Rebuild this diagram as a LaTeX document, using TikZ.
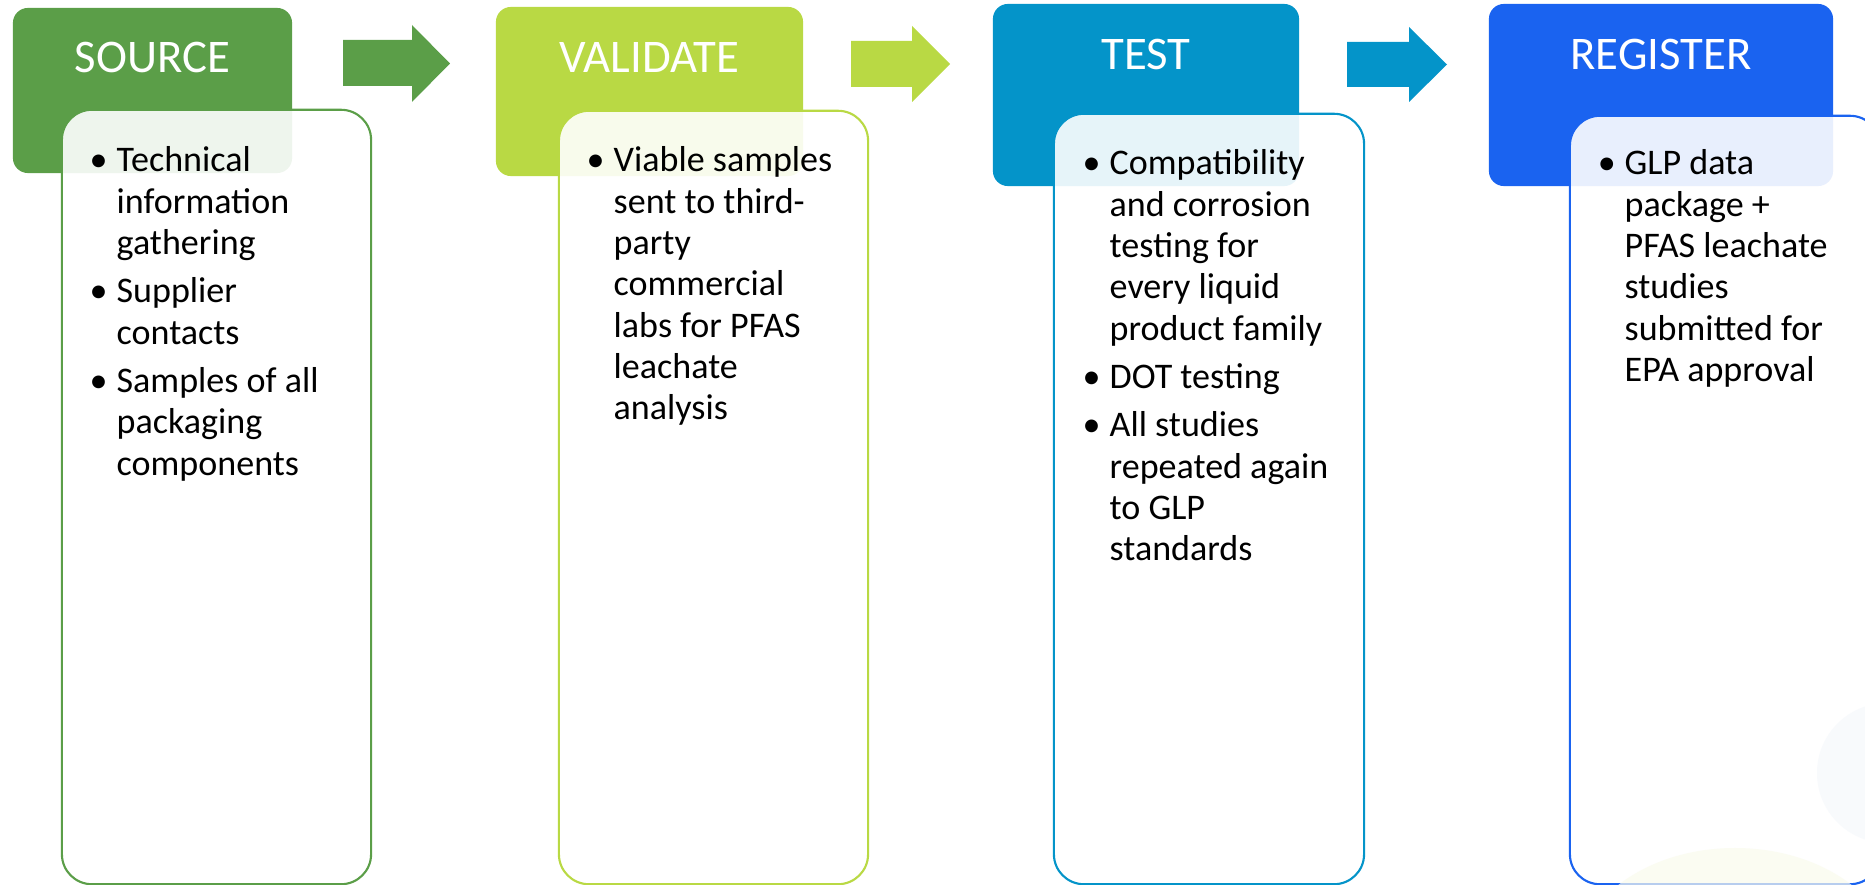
\documentclass[tikz,border=0pt]{standalone}
\usepackage{fontspec}
\setmainfont{Carlito}
\definecolor{srcgreen}{RGB}{91,158,72}
\definecolor{vallime}{RGB}{185,217,68}
\definecolor{testblue}{RGB}{4,148,201}
\definecolor{regblue}{RGB}{26,99,240}
\definecolor{faintblue}{RGB}{242,246,251}
\definecolor{faintyellow}{RGB}{250,251,238}
\newcommand{\bul}{\llap{\textbullet\hspace{0.09cm}}}
\newcommand{\stagelist}[1]{\begin{tabular}[t]{@{}l@{}}#1\end{tabular}}

\begin{document}
\begin{tikzpicture}[x=0.01cm, y=-0.01cm,
    head/.style={fill=#1, rounded corners=0.15cm, inner sep=0pt},
    body/.style={draw=#1, line width=0.6pt, fill=white, fill opacity=0.9,
                 rounded corners=0.3cm, inner sep=0pt},
    title/.style={text=white, font=\fontsize{13.3}{16}\selectfont, inner sep=0pt, anchor=base},
    bullets/.style={inner sep=0pt, anchor=base west,
                    font=\fontsize{10.25}{11.75}\selectfont}]
    \clip (0,0) rectangle (1865,885);

    % stage headers
    \node[head=srcgreen, minimum width=2.79cm, minimum height=1.65cm] (srchead) at (152.5,90.5) {};
    \node[head=vallime, minimum width=3.07cm, minimum height=1.69cm] (valhead) at (649.5,91.5) {};
    \node[head=testblue, minimum width=3.06cm, minimum height=1.82cm] (testhead) at (1146,95) {};
    \node[head=regblue, minimum width=3.44cm, minimum height=1.82cm] (reghead) at (1661,95) {};

    \node[title] (srctitle) at (152.5,73) {SOURCE};
    \node[title] (valtitle) at (649.5,73) {VALIDATE};
    \node[title] (testtitle) at (1146,70) {TEST};
    \node[title] (regtitle) at (1661,70) {REGISTER};

    % stage bodies
    \node[body=srcgreen, minimum width=3.09cm, minimum height=7.74cm] (srcbody) at (216.5,497) {};
    \node[body=vallime, minimum width=3.09cm, minimum height=7.73cm] (valbody) at (713.5,497.5) {};
    \node[body=testblue, minimum width=3.10cm, minimum height=7.70cm] (testbody) at (1209,499) {};
    \node[body=regblue, minimum width=3.10cm, minimum height=7.68cm] (regbody) at (1725,500) {};

    \node[bullets] (srctxt) at (116,172) {\stagelist{\bul Technical\\ information\\ gathering\\[0.07cm]
        \bul Supplier\\ contacts\\[0.07cm] \bul Samples of all\\ packaging\\ components}};
    \node[bullets] (valtxt) at (613,172) {\stagelist{\bul Viable samples\\ sent to third-\\ party\\
        commercial\\ labs for PFAS\\ leachate\\ analysis}};
    \node[bullets] (testtxt) at (1109,175) {\stagelist{\bul Compatibility\\ and corrosion\\ testing for\\
        every liquid\\ product family\\[0.07cm] \bul DOT testing\\[0.07cm]
        \bul All studies\\ repeated again\\ to GLP\\ standards}};
    \node[bullets] (regtxt) at (1624,175) {\stagelist{\bul GLP data\\ package +\\ PFAS leachate\\
        studies\\ submitted for\\ EPA approval}};

    % block arrows
    \fill[srcgreen] (343,40) -- (412,40) -- (412,25) -- (450,63.5) -- (412,102) -- (412,86) -- (343,86) -- cycle;
    \fill[vallime] (851,41) -- (912,41) -- (912,26) -- (950,64) -- (912,102) -- (912,87) -- (851,87) -- cycle;
    \fill[testblue] (1347,42) -- (1409,42) -- (1409,27) -- (1447,64.5) -- (1409,102) -- (1409,87) -- (1347,87) -- cycle;

    % faint backdrop
    \fill[faintblue, fill opacity=0.5] (1887,773) circle [radius=70];
    \fill[faintyellow, fill opacity=0.7] (1735,965) ellipse [x radius=160, y radius=117];
\end{tikzpicture}
\end{document}
